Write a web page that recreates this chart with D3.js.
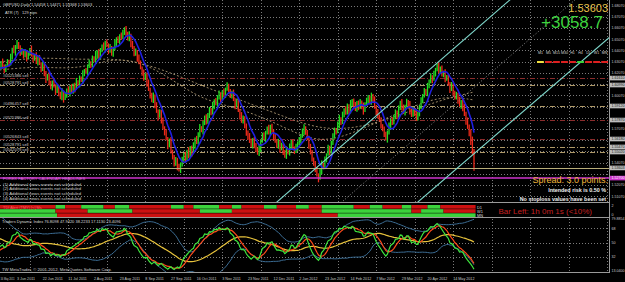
<!DOCTYPE html>
<html>
<head>
<meta charset="utf-8">
<script src="https://cdn.jsdelivr.net/npm/d3@7"></script>
<style>
  body { margin: 0; background: #000; }
  svg { display: block; }
  text { font-family: "Liberation Sans", Arial, sans-serif; }
</style>
</head>
<body>
<svg id="chart" width="625" height="282"></svg>
<script>
// GBPUSD daily, values in pips above 1.5000 (1.6234 -> 1234)
const priorCloses = [1000, 1030, 990, 1020, 1060, 1040, 1080, 1120, 1090, 1150,
  1190, 1160, 1220, 1260, 1230, 1280, 1320, 1300, 1350, 1390,
  1360, 1410, 1440, 1420, 1470, 1500, 1480, 1530, 1560, 1540,
  1590, 1610, 1570, 1550, 1600, 1580, 1530, 1490, 1450, 1410,
  1380, 1340, 1300, 1320, 1280, 1250, 1270, 1230, 1210, 1250];

const closes = [
  1240, 1210, 1260, 1225, 1280, 1250, 1300, 1265, 1230, 1275,
  1310, 1290, 1350, 1420, 1395, 1440, 1470, 1430, 1385, 1410,
  1360, 1395, 1340, 1380, 1420, 1370, 1330, 1365, 1310, 1345,
  1290, 1240, 1275, 1200, 1150, 1185, 1120, 1080, 1130, 1090,
  1040, 1075, 1020, 990, 1035, 975, 1010, 1060, 1025, 1080,
  1045, 1100, 1070, 1130, 1105, 1160, 1140, 1195, 1230, 1210,
  1265, 1300, 1280, 1340, 1315, 1370, 1395, 1350, 1410, 1450,
  1420, 1480, 1455, 1400, 1435, 1380, 1420, 1470, 1510, 1490,
  1540, 1520, 1575, 1600, 1555, 1510, 1545, 1470, 1430, 1380,
  1400, 1340, 1300, 1250, 1210, 1160, 1190, 1110, 1060, 1010,
  960, 1000, 920, 870, 820, 860, 780, 720, 680, 620,
  560, 600, 510, 450, 400, 440, 370, 340, 390, 430,
  480, 440, 510, 470, 540, 500, 560, 620, 590, 660,
  720, 690, 760, 810, 770, 840, 880, 850, 910, 960,
  930, 990, 1020, 980, 1040, 1010, 1060, 1090, 1050, 1000,
  1030, 970, 920, 950, 870, 820, 780, 810, 730, 680,
  640, 600, 560, 610, 570, 520, 490, 540, 600, 650,
  620, 680, 710, 670, 730, 690, 640, 600, 560, 590,
  530, 560, 500, 470, 520, 490, 550, 590, 540, 510,
  540, 580, 610, 650, 690, 720, 680, 620, 560, 500,
  440, 390, 350, 300, 270, 330, 390, 370, 440, 480,
  540, 510, 590, 640, 700, 680, 750, 800, 770, 840,
  880, 850, 910, 870, 930, 960, 920, 880, 940, 900,
  950, 910, 870, 930, 960, 990, 950, 1000, 960, 900,
  860, 820, 790, 740, 700, 660, 620, 680, 730, 780,
  760, 820, 860, 830, 890, 940, 900, 860, 910, 950,
  920, 870, 830, 880, 850, 800, 850, 900, 960, 1000,
  1050, 1030, 1090, 1130, 1170, 1150, 1200, 1240, 1270, 1230,
  1250, 1190, 1210, 1150, 1170, 1110, 1060, 1090, 1030, 990,
  1010, 960, 920, 950, 890, 840, 780, 730, 680, 610,
  510, 360];

// wick length above / below the body, pips
const wickHi = [
  12, 25, 8, 30, 15, 22, 10, 35, 18, 9, 20, 14, 28, 11, 33, 16, 30, 12, 24, 19,
  10, 26, 15, 21, 9, 31, 17, 13, 27, 14, 22, 11, 35, 16, 24, 12, 29, 18, 10, 25,
  15, 30, 12, 20, 38, 14, 23, 9, 28, 17, 26, 13, 19, 32, 11, 24, 16, 35, 12, 21,
  18, 27, 10, 22, 15, 34, 13, 25, 19, 11, 29, 14, 24, 16, 30, 12, 20, 36, 15, 23,
  11, 28, 17, 14, 26, 19, 33, 10, 22, 16, 25, 12, 31, 18, 13, 27, 15, 21, 38, 14,
  20, 33, 14, 26, 11, 23, 17, 30, 12, 28, 15, 22, 36, 13, 25, 18, 10, 27, 19, 31,
  14, 24, 12, 35, 16, 21, 29, 11, 26, 18, 32, 13, 20, 17, 28, 10, 24, 15, 37, 12,
  23, 19, 30, 14, 11, 27, 16, 34, 20, 13, 18, 29, 12, 25, 21, 15, 38, 17, 10, 26,
  13, 31, 22, 16, 27, 12, 20, 33, 14, 24, 28, 11, 19, 36, 15, 23, 13, 26, 18, 30,
  16, 25, 14, 21, 33, 10, 28, 19, 24, 12, 35, 17, 26, 13, 22, 30, 11, 18, 27, 15,
  21, 14, 32, 19, 12, 25, 37, 16, 23, 10, 27, 18, 13, 29, 20, 15, 24, 34, 11, 22,
  12, 30, 25, 17, 36, 14, 19, 28, 16, 21, 24, 11, 33, 15, 26, 20, 13, 31, 18, 38,
  19, 26, 16, 23, 10, 29, 22, 14, 35, 17, 31, 15, 21, 12, 28, 18, 34, 25, 13, 27,
  16, 37, 19, 24, 14, 31, 11, 22, 29, 20, 23, 13, 28, 18, 35, 16, 26, 12, 21, 33,
  14, 22, 17, 30, 19, 25, 15, 36, 24, 18, 28, 20, 35, 15, 24, 40, 22, 30, 18, 26,
  30, 20];
const wickLo = [
  18, 10, 27, 14, 22, 31, 12, 20, 26, 15, 11, 29, 17, 24, 13, 35, 19, 10, 28, 16,
  25, 14, 32, 12, 21, 18, 30, 15, 23, 37, 13, 27, 16, 22, 34, 11, 25, 19, 29, 14,
  30, 12, 21, 17, 26, 33, 10, 24, 15, 28, 16, 23, 38, 13, 20, 27, 14, 31, 18, 11,
  24, 15, 29, 21, 12, 25, 36, 16, 22, 19, 12, 32, 18, 26, 14, 20, 28, 11, 34, 17,
  27, 19, 13, 30, 23, 15, 21, 35, 12, 25, 20, 34, 16, 11, 29, 22, 17, 26, 14, 31,
  15, 21, 28, 19, 36, 12, 24, 18, 30, 13, 33, 16, 22, 14, 27, 20, 31, 11, 25, 18,
  19, 28, 11, 24, 15, 37, 13, 29, 17, 22, 26, 12, 31, 18, 23, 16, 35, 20, 14, 27,
  11, 25, 19, 33, 14, 21, 27, 13, 30, 16, 22, 14, 36, 20, 11, 29, 18, 24, 15, 32,
  28, 17, 13, 26, 34, 19, 12, 23, 37, 15, 14, 30, 21, 12, 25, 17, 33, 16, 22, 28,
  35, 13, 24, 18, 29, 11, 20, 31, 14, 26, 17, 27, 15, 32, 21, 36, 23, 12, 28, 19,
  23, 11, 29, 16, 38, 14, 26, 21, 13, 30, 12, 34, 20, 25, 15, 22, 10, 33, 27, 18,
  29, 16, 14, 31, 24, 19, 37, 13, 20, 25, 15, 26, 35, 11, 18, 30, 22, 27, 16, 12,
  31, 20, 17, 28, 13, 24, 15, 34, 21, 29, 18, 12, 26, 36, 22, 14, 28, 17, 32, 11,
  25, 33, 16, 13, 27, 21, 18, 30, 15, 23, 13, 24, 31, 20, 16, 35, 12, 25, 19, 28,
  30, 15, 22, 27, 12, 18, 33, 14, 26, 21, 20, 28, 14, 32, 25, 17, 35, 22, 38, 45,
  30, 25];

// bottom time axis
const dateTickBars = [0, 16, 32, 48, 64, 80, 96, 112, 128, 144, 160, 176, 192, 208, 224, 240, 256, 272, 288];
const dateTickLabels = ["16 May 2011", "3 Jun 2011", "22 Jun 2011", "11 Jul 2011", "2 Aug 2011", "23 Aug 2011",
  "8 Sep 2011", "27 Sep 2011", "16 Oct 2011", "3 Nov 2011", "23 Nov 2011", "12 Dec 2011", "2 Jan 2012",
  "23 Jan 2012", "14 Feb 2012", "7 Mar 2012", "29 Mar 2012", "20 Apr 2012", "14 May 2012"];
const gridBars = [0, 24, 48, 72, 96, 120, 144, 168, 192, 216, 240, 264, 288, 312, 336, 360, 384];

// right price axis
const priceTicks = [1.6807, 1.6707, 1.6607, 1.6507, 1.6407, 1.6307, 1.6207, 1.6107, 1.6007,
  1.5907, 1.5807, 1.5707, 1.5607, 1.5507, 1.5407, 1.5307, 1.5207, 1.5107];

// order lines
const levelPrices = [1.6161, 1.6099, 1.5912, 1.5787, 1.5618, 1.5547, 1.5502];
const levelTypes = ["sl", "open", "open", "sl", "sl", "open", "open"];
const levelTags = ["#0525386 sell", "#0528791 sell", "#0496457 sell", "#0525386 sell",
  "#0526843 sell", "#0528791 sell", "#0542079 sell"];
const bidPrice = 1.53603;
const calendarPrice = 1.5270;

// slow moving averages (dotted)
const maSlowBars = [5, 30, 55, 80, 105, 130, 155, 180, 205, 230, 255, 280, 301];
const maSlowPrices = [1.6304, 1.6349, 1.6322, 1.6340, 1.6251, 1.6099, 1.5966, 1.5832, 1.5698, 1.5716, 1.5832, 1.5966, 1.6037];
const maMidBars = [5, 30, 55, 80, 105, 130, 155, 180, 205, 230, 255, 280, 301];
const maMidPrices = [1.6233, 1.6268, 1.6233, 1.6366, 1.6233, 1.5966, 1.5894, 1.5743, 1.5564, 1.5698, 1.5858, 1.6010, 1.5966];

// trend channel anchors [bar, price]
const channelUpper = [[178, 1.5056], [278, 1.6295]];
const channelLower = [[267.4, 1.5074], [347.2, 1.6054]];
const channelMid = [[220, 1.5074], [320, 1.6313]];

// multi timeframe panel
const mtfLabels = ["M1", "M5", "M15", "M30", "H1", "H4", "D1", "W1", "MN"];
const mtfStates = ["flat", "down", "down", "down", "down", "up", "down", "down", "down"];

// TDI alert strip, [fromBar, toBar, state]
const stripRows = ["D1", "W1", "MN"];
const stripD1 = [[0, 40, 0], [40, 46, 1], [46, 56, 0], [56, 70, 1], [70, 77, 0], [77, 86, 1], [86, 112, 0], [112, 120, 1],
  [120, 126, 0], [126, 142, 1], [142, 150, 0], [150, 156, 1], [156, 170, 0], [170, 178, 1], [178, 190, 0],
  [190, 198, 1], [198, 206, 0], [206, 226, 1], [226, 236, 0], [236, 244, 1], [244, 256, 0], [256, 262, 1],
  [262, 272, 0], [272, 280, 1], [280, 302, 0]];
const stripW1 = [[0, 40, 1], [40, 60, 0], [60, 88, 1], [88, 130, 0], [130, 150, 1], [150, 206, 0], [206, 262, 1],
  [262, 268, 0], [268, 282, 1], [282, 302, 0]];
const stripMN = [[0, 41, 1], [41, 216, 0], [216, 302, 1]];

// ---------------------------------------------------------------
const plotRight = 609;
const mainBottom = 202, stripTop = 204, stripBottom = 217, tdiTop = 218, tdiBottom = 272;
const up = '#22dd22', down = '#ee2a1a';

const svg = d3.select('#chart');
svg.append('rect').attr('width', 625).attr('height', 282).attr('fill', '#000');

const defs = svg.append('defs');
function clip(id, y0, y1) {
  defs.append('clipPath').attr('id', id).append('rect')
    .attr('x', 0).attr('y', y0).attr('width', plotRight).attr('height', y1 - y0);
}
clip('cMain', 0, mainBottom);
clip('cStrip', stripTop, stripBottom);
clip('cTdi', tdiTop, tdiBottom);

const pip = v => 1.5 + v / 10000;
const allCloses = priorCloses.concat(closes);
const off = priorCloses.length;

const bars = closes.map((c, i) => {
  const o = pip(allCloses[off + i - 1]), cl = pip(c);
  return {i: i, o: o, c: cl,
    h: Math.max(o, cl) + wickHi[i] / 10000,
    l: Math.min(o, cl) - wickLo[i] / 10000};
});

const x = d3.scaleLinear().domain([0, closes.length - 1]).range([-8.6, 474]);
const y = d3.scaleLinear().domain([1.6616, 1.5235]).range([27, 182]);
const yTdi = d3.scaleLinear().domain([13.04, 79.8854]).range([272, 219]);
const yStrip = d3.scaleBand().domain(stripRows).range([stripTop + 1, stripBottom]).paddingInner(0.12);

const gMain = svg.append('g').attr('clip-path', 'url(#cMain)');
const gStrip = svg.append('g').attr('clip-path', 'url(#cStrip)');
const gTdi = svg.append('g').attr('clip-path', 'url(#cTdi)');

// grid
const gridColor = '#7a7a7a';
gMain.selectAll('line.hg').data(priceTicks).enter().append('line')
  .attr('x1', 0).attr('x2', plotRight)
  .attr('y1', d => Math.round(y(d)) + 0.5).attr('y2', d => Math.round(y(d)) + 0.5)
  .attr('stroke', gridColor).attr('stroke-dasharray', '1,2');
[gMain, gTdi].forEach(g => {
  g.selectAll('line.vg').data(gridBars).enter().append('line')
    .attr('x1', d => Math.round(x(d)) + 0.5).attr('x2', d => Math.round(x(d)) + 0.5)
    .attr('y1', 0).attr('y2', tdiBottom)
    .attr('stroke', gridColor).attr('stroke-dasharray', '1,2');
});
gTdi.selectAll('line.tl').data([68, 50, 32]).enter().append('line')
  .attr('x1', 0).attr('x2', plotRight)
  .attr('y1', d => Math.round(yTdi(d)) + 0.5).attr('y2', d => Math.round(yTdi(d)) + 0.5)
  .attr('stroke', gridColor).attr('stroke-dasharray', '1,2');

// order lines
const levelColor = {sl: '#8a2c2c', open: '#b09a68'};
gMain.selectAll('line.lvl').data(levelPrices).enter().append('line')
  .attr('x1', 0).attr('x2', plotRight)
  .attr('y1', d => Math.round(y(d)) + 0.5).attr('y2', d => Math.round(y(d)) + 0.5)
  .attr('stroke', (d, i) => levelColor[levelTypes[i]])
  .attr('stroke-dasharray', '5,2,1,2');
gMain.selectAll('text.lvl').data(levelPrices).enter().append('text')
  .attr('x', 3).attr('y', d => Math.round(y(d)) - 1)
  .attr('font-size', 4.1).attr('fill', '#c8c8c8')
  .text((d, i) => levelTags[i]);

// slow averages
const line = d3.line().curve(d3.curveBasis);
[[maSlowBars, maSlowPrices], [maMidBars, maMidPrices]].forEach(([b, p]) => {
  gMain.append('path')
    .attr('d', line(b.map((d, i) => [x(d), y(p[i])])))
    .attr('fill', 'none').attr('stroke', '#a89470').attr('stroke-width', 0.9)
    .attr('stroke-dasharray', '2,2');
});

// candles
gMain.selectAll('line.bar').data(bars).enter().append('line')
  .attr('x1', d => x(d.i)).attr('x2', d => x(d.i))
  .attr('y1', d => y(d.h)).attr('y2', d => y(d.l))
  .attr('stroke', d => d.c >= d.o ? up : down).attr('stroke-width', 1.3);

// moving average of closes
function sma(arr, n) {
  return arr.map((d, i) => i < n - 1 ? null : d3.mean(arr.slice(i - n + 1, i + 1)));
}
const ma8 = sma(allCloses, 8).slice(off);
gMain.append('path')
  .attr('d', d3.line().x((d, i) => x(i)).y(d => y(pip(d)))(ma8))
  .attr('fill', 'none').attr('stroke', '#1f1fe0').attr('stroke-width', 1.6);

// bid and calendar lines
gMain.append('line').attr('x1', 0).attr('x2', plotRight)
  .attr('y1', Math.round(y(bidPrice)) + 0.5).attr('y2', Math.round(y(bidPrice)) + 0.5)
  .attr('stroke', '#b8ad7a');
gMain.append('line').attr('x1', 0).attr('x2', plotRight)
  .attr('y1', Math.round(y(calendarPrice))).attr('y2', Math.round(y(calendarPrice)))
  .attr('stroke', '#cc33cc').attr('stroke-width', 1.6);

// channel
function extend(pts) {
  const [a, b] = pts.map(p => [x(p[0]), y(p[1])]);
  const k = (b[1] - a[1]) / (b[0] - a[0]);
  return [[a[0] - 400, a[1] - 400 * k], [b[0] + 400, b[1] + 400 * k]];
}
[channelUpper, channelLower].forEach(p => {
  const e = extend(p);
  gMain.append('line').attr('x1', e[0][0]).attr('y1', e[0][1]).attr('x2', e[1][0]).attr('y2', e[1][1])
    .attr('stroke', '#7fd8cc').attr('stroke-width', 1.1);
});
{
  const e = extend(channelMid);
  gMain.append('line').attr('x1', e[0][0]).attr('y1', e[0][1]).attr('x2', e[1][0]).attr('y2', e[1][1])
    .attr('stroke', '#8a8a8a').attr('stroke-dasharray', '1,2');
}

// strip
[stripD1, stripW1, stripMN].forEach((segs, r) => {
  gStrip.selectAll('rect.s' + r).data(segs).enter().append('rect')
    .attr('x', d => x(d[0])).attr('width', d => x(d[1]) - x(d[0]))
    .attr('y', yStrip(stripRows[r])).attr('height', yStrip.bandwidth())
    .attr('fill', d => d[2] ? '#3cd23c' : '#cc1010');
});
gStrip.append('text').attr('x', 3).attr('y', yStrip('D1') + 3.5)
  .attr('font-size', 3.9).attr('fill', '#ff6060').text('TDI Alert (TMY) [<] Ms');
svg.selectAll('text.sr').data(stripRows).enter().append('text')
  .attr('x', x(closes.length - 1) + 3).attr('y', d => yStrip(d) + 3.5)
  .attr('font-size', 3.9).attr('fill', '#ddd').text(d => d);

// TDI from closes
function rsi(arr, n) {
  const out = arr.map(() => null);
  let ag = 0, al = 0;
  for (let i = 1; i < arr.length; i++) {
    const ch = arr[i] - arr[i - 1];
    const g = Math.max(ch, 0), l = Math.max(-ch, 0);
    if (i <= n) { ag += g / n; al += l / n; }
    else { ag = (ag * (n - 1) + g) / n; al = (al * (n - 1) + l) / n; }
    if (i >= n) out[i] = al === 0 ? 100 : 100 - 100 / (1 + ag / al);
  }
  return out;
}
function smaN(arr, n) {
  return arr.map((d, i) => {
    if (i < n - 1) return null;
    const w = arr.slice(i - n + 1, i + 1);
    return w.some(v => v === null) ? null : d3.mean(w);
  });
}
function sdN(arr, n) {
  return arr.map((d, i) => {
    if (i < n - 1) return null;
    const w = arr.slice(i - n + 1, i + 1);
    return w.some(v => v === null) ? null : d3.deviation(w) * Math.sqrt((n - 1) / n);
  });
}
const r13 = rsi(allCloses, 13);
const base = smaN(r13, 34), sd = sdN(r13, 34);
const upBand = base.map((b, i) => b === null ? null : b + 1.6185 * sd[i]);
const loBand = base.map((b, i) => b === null ? null : b - 1.6185 * sd[i]);
const priceLine = smaN(r13, 2), signal = smaN(r13, 7);
const tdiLine = d3.line().defined(d => d !== null).x((d, i) => x(i)).y(d => yTdi(d));
[[upBand, '#3c6e96', 1], [loBand, '#3c6e96', 1], [base, '#e6c23c', 1.2], [signal, '#ff4a1a', 1.2], [priceLine, '#3ee63e', 1.2]]
  .forEach(([s, c, w]) => {
    gTdi.append('path').attr('d', tdiLine(s.slice(off))).attr('fill', 'none')
      .attr('stroke', c).attr('stroke-width', w);
  });

// window frames
const frame = '#9a9a9a';
[mainBottom, stripBottom, tdiBottom].forEach(b => {
  svg.append('line').attr('x1', 0).attr('x2', plotRight + 1).attr('y1', b + 0.5).attr('y2', b + 0.5).attr('stroke', frame);
});
svg.append('line').attr('x1', plotRight + 0.5).attr('x2', plotRight + 0.5).attr('y1', 0).attr('y2', tdiBottom)
  .attr('stroke', frame);

// price axis: highlighted tags cover the plain tick labels they sit on
const axisText = '#c8c8c8', axisSize = 3.6;
const tags = levelPrices.concat([bidPrice, calendarPrice]);
const freeTicks = priceTicks.filter(t => tags.every(p => Math.abs(y(p) - y(t)) > 4.6));
svg.selectAll('text.pt').data(freeTicks).enter().append('text')
  .attr('x', 611.5).attr('y', d => y(d) + 1.3).attr('font-size', axisSize).attr('fill', axisText)
  .text(d => d.toFixed(5));
svg.selectAll('rect.tag').data(tags).enter().append('rect')
  .attr('x', 610).attr('y', d => y(d) - 2.3).attr('width', 15).attr('height', 4.6)
  .attr('fill', d => d === calendarPrice ? '#cc33cc' : '#bdbdbd');
svg.selectAll('text.tag').data(tags).enter().append('text')
  .attr('x', 611.5).attr('y', d => y(d) + 1.3).attr('font-size', axisSize)
  .attr('fill', d => d === calendarPrice ? '#fff' : '#222')
  .text(d => d.toFixed(5));
svg.selectAll('text.st').data([2, 0]).enter().append('text')
  .attr('x', 611.5).attr('y', (d, i) => i ? stripBottom - 1 : stripTop + 3).attr('font-size', axisSize).attr('fill', axisText).text(d => d);
svg.selectAll('text.tt').data(['79.8854', '68', '50', '32', '13.0400']).enter().append('text')
  .attr('x', 611.5).attr('y', d => Math.min(yTdi(+d) + 1.3, tdiBottom - 0.5)).attr('font-size', axisSize).attr('fill', axisText).text(d => d);

// time axis; the first label is squeezed so it fits before the second one
svg.selectAll('text.dt').data(dateTickBars).enter().append('text')
  .attr('x', d => Math.max(0.5, x(d))).attr('y', 279.5).attr('font-size', 3.7).attr('fill', axisText)
  .text((d, i) => dateTickLabels[i])
  .each(function(d) {
    if (x(d) < 0.5) d3.select(this).attr('font-size', 2.9)
      .attr('textLength', 14).attr('lengthAdjust', 'spacingAndGlyphs');
  });

// texts
function label(t, xx, yy, size, color, weight) {
  svg.append('text').attr('x', xx).attr('y', yy).attr('font-size', size).attr('fill', color)
    .attr('font-weight', weight || 'normal').text(t);
}
label('GBPUSD,Daily  1.54458 1.54471 1.53368 1.53603', 3, 5.5, 4, '#d8d8d8');
label('ATR (7)', 5, 14, 4, '#d8d8d8');
label('129 pips', 22, 14, 4, '#d8d8d8');
svg.append('text').attr('x', 608).attr('y', 11.5).attr('text-anchor', 'end').attr('font-size', 11)
  .attr('fill', '#e8c24a').text('1.53603');
svg.append('text').attr('x', 603).attr('y', 27.5).attr('text-anchor', 'end').attr('font-size', 17)
  .attr('fill', '#3ed23e').text('+3058.7');

// multi timeframe
const mx = d3.scaleBand().domain(mtfLabels).range([537, 608]).paddingInner(0.15);
svg.selectAll('text.mtf').data(mtfLabels).enter().append('text')
  .attr('x', d => mx(d) + mx.bandwidth() / 2).attr('y', 54).attr('text-anchor', 'middle')
  .attr('font-size', 3.6).attr('fill', '#d0d0d0').text(d => d);
const mtfColor = {flat: '#f0e040', up: '#3cd23c', down: '#dd2020'};
svg.selectAll('rect.mtf').data(mtfLabels).enter().append('rect')
  .attr('x', d => mx(d)).attr('y', 61).attr('width', mx.bandwidth()).attr('height', 2)
  .attr('fill', (d, i) => mtfColor[mtfStates[i]]);

label('FOREX FACTORY CALENDAR HEADLINES', 3, 179.5, 4.1, '#e070e0');
['(1) Additional news events not scheduled', '(2) Additional news events not scheduled',
 '(3) Additional news events not scheduled', '(4) Additional news events not scheduled']
  .forEach((t, i) => label(t, 3, 185.5 + i * 4.9, 4.3, '#cfcfcf'));

svg.append('text').attr('x', 608).attr('y', 183).attr('text-anchor', 'end').attr('font-size', 9)
  .attr('fill', '#f0b43c').text('Spread: 3.0 points.');
svg.append('text').attr('x', 606).attr('y', 191.5).attr('text-anchor', 'end').attr('font-size', 5.4)
  .attr('font-weight', 'bold').attr('fill', '#f0f0f0').text('Intended risk is 0.50 %');
svg.append('text').attr('x', 606).attr('y', 200.5).attr('text-anchor', 'end').attr('font-size', 5.4)
  .attr('font-weight', 'bold').attr('fill', '#f0f0f0').text('No stoploss values have been set');
svg.append('text').attr('x', 592).attr('y', 214).attr('text-anchor', 'end').attr('font-size', 8)
  .attr('fill', '#c42020').text('Bar Left: 1h 0m 1s (<10%)');

label('Traders Dynamic Index 76.8098 47.9420 38.2233 17.1130 23.4096', 2, 223, 4, '#d8d8d8');
label('TW MetaTrader, \u00a9 2001-2012, MetaQuotes Software Corp.', 2, 270.5, 4.2, '#d8d8d8');
</script>
</body>
</html>
